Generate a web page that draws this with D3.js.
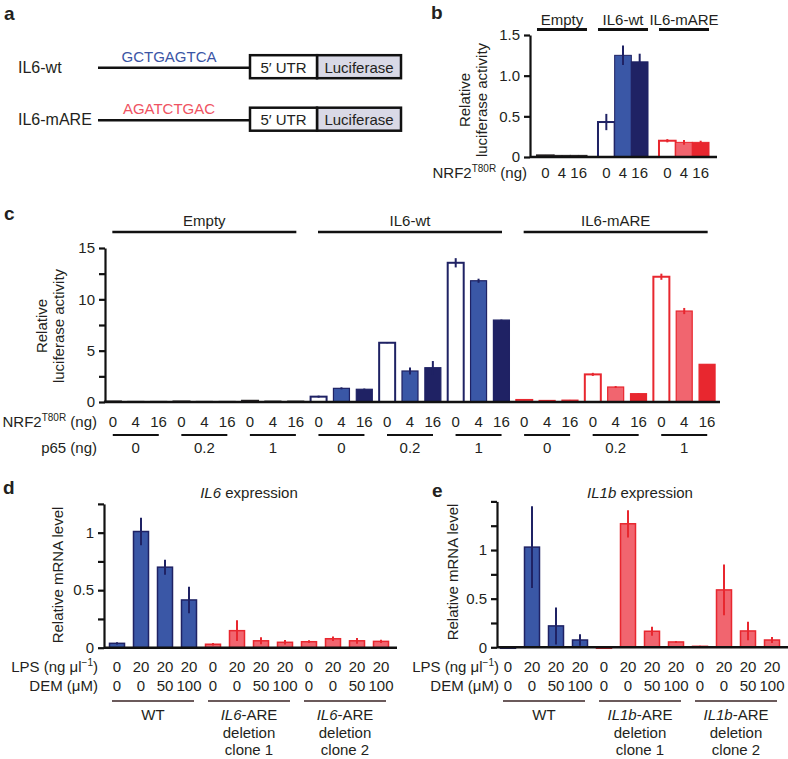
<!DOCTYPE html>
<meta charset="utf-8">
<style>
body { margin: 0; background: #fff; }
svg { font-family: "Liberation Sans", Arial, sans-serif; font-size: 15px; }
text { fill: #231f20; }
.axis path, .axis line { stroke: #111; stroke-width: 2.2; }
.axis text { fill: #231f20; }
</style>
<body>
<svg width="788" height="759"></svg>

<script src="https://cdn.jsdelivr.net/npm/d3@7"></script>
<script>

// panel a
var aConstructs = ["IL6-wt", "IL6-mARE"];
var aSequences = ["GCTGAGTCA", "AGATCTGAC"];
var aSeqColors = ["#3b55a5", "#ef5362"];

// panel b
var constructs = ["Empty", "IL6-wt", "IL6-mARE"];
var nrfDoses = ["0", "4", "16"];
var bValues = [[0.02, 0.02, 0.02], [0.43, 1.25, 1.17], [0.20, 0.18, 0.18]];
var bErrors = [[0.005, 0.005, 0.005], [0.10, 0.12, 0.10], [0.02, 0.03, 0.02]];
var bTicks = [0, 0.5, 1.0, 1.5];

// panel c
var p65Doses = ["0", "0.2", "1"];
var cValues = [
  [0.05, 0.05, 0.05, 0.05, 0.05, 0.05, 0.12, 0.08, 0.08],
  [0.52, 1.33, 1.24, 5.77, 3.02, 3.34, 13.56, 11.81, 7.98],
  [0.20, 0.15, 0.18, 2.69, 1.46, 0.81, 12.20, 8.86, 3.67]
];
var cErrors = [
  [0.01, 0.01, 0.01, 0.01, 0.01, 0.01, 0.02, 0.02, 0.02],
  [0.10, 0.10, 0.07, 0.05, 0.35, 0.65, 0.45, 0.20, 0.05],
  [0.03, 0.02, 0.02, 0.15, 0.10, 0.04, 0.30, 0.30, 0.03]
];
var cTicks = [0, 2.5, 5, 7.5, 10, 12.5, 15];

// panels d and e
var cellLines = ["WT", "clone 1", "clone 2"];
var lpsDoses = ["0", "20", "20", "20"];
var demDoses = ["0", "0", "50", "100"];
var dValues = [[0.038, 1.01, 0.70, 0.415], [0.03, 0.148, 0.06, 0.047], [0.052, 0.078, 0.06, 0.055]];
var dErrors = [[0.01, 0.12, 0.065, 0.115], [0.01, 0.09, 0.03, 0.02], [0.012, 0.02, 0.025, 0.015]];
var dTicks = [0, 0.25, 0.5, 0.75, 1, 1.25];
var eValues = [[-0.01, 1.03, 0.22, 0.075], [-0.01, 1.27, 0.165, 0.055], [0.01, 0.59, 0.168, 0.075]];
var eErrors = [[0.005, 0.42, 0.19, 0.06], [0.005, 0.14, 0.045, 0.01], [0.005, 0.26, 0.095, 0.03]];
var eTicks = [0, 0.25, 0.5, 0.75, 1, 1.25, 1.5];

var ink = "#231f20", navy = "#1f2264", blue = "#3a57a6", red = "#e8272f", pink = "#f1656f";
var fills = { "Empty": [ink, ink, ink], "IL6-wt": ["#fff", blue, navy], "IL6-mARE": ["#fff", pink, red] };
var edges = { "Empty": ink, "IL6-wt": navy, "IL6-mARE": red };

var svg = d3.select("svg");

function letter(t, x, y) {
  svg.append("text").attr("x", x).attr("y", y).attr("font-size", 19)
    .attr("font-weight", "bold").text(t);
}

function yAxis(g, y, ticks, fmt, x0) {
  g.append("g")
    .attr("class", "axis")
    .attr("transform", "translate(" + x0 + ",0)")
    .call(d3.axisLeft(y).tickValues(ticks).tickFormat(fmt).tickSize(6).tickSizeOuter(0).tickPadding(4))
    .attr("font-size", 15).attr("font-family", null);
}

function drawBars(g, rows, xf, bw, y) {
  g.selectAll("rect.bar").data(rows).enter().append("rect")
    .attr("class", "bar")
    .attr("x", function (d) { return xf(d); })
    .attr("width", bw)
    .attr("y", function (d) { return y(Math.max(0, d.v)); })
    .attr("height", function (d) { return Math.abs(y(d.v) - y(0)); })
    .attr("fill", function (d) { return d.fill; })
    .attr("stroke", function (d) { return d.stroke; })
    .attr("stroke-width", function (d) { return d.sw; });
  g.selectAll("line.err").data(rows).enter().append("line")
    .attr("class", "err")
    .attr("x1", function (d) { return xf(d) + bw / 2; })
    .attr("x2", function (d) { return xf(d) + bw / 2; })
    .attr("y1", function (d) { return y(d.v - d.e); })
    .attr("y2", function (d) { return y(d.v + d.e); })
    .attr("stroke", function (d) { return d.stroke; })
    .attr("stroke-width", 2);
}

// NRF2T80R (ng) style label with superscript
function supLabel(g, x, y, before, sup, after, italic) {
  var t = g.append("text").attr("x", x).attr("y", y).attr("text-anchor", "end");
  t.append("tspan").text(before);
  t.append("tspan").attr("font-size", 10).attr("dy", -6).text(sup);
  t.append("tspan").attr("dy", 6).text(after);
  return t;
}

function yLabel(g, x, y, lines) {
  lines.forEach(function (s, i) {
    g.append("text")
      .attr("transform", "translate(" + (x + i * 17) + "," + y + ") rotate(-90)")
      .attr("text-anchor", "middle").text(s);
  });
}

// ---------- a ----------
letter("a", 4, 20);
var a = svg.append("g");
var ay = d3.scalePoint().domain(aConstructs).range([66.7, 119.2]);
aConstructs.forEach(function (c, i) {
  var cy = ay(c);
  a.append("text").attr("x", 18).attr("y", cy + 6).attr("font-size", 16).text(c);
  a.append("line").attr("x1", 98).attr("x2", 250).attr("y1", cy + 1).attr("y2", cy + 1)
    .attr("stroke", "#111").attr("stroke-width", 2.5);
  a.append("text").attr("x", 169).attr("y", cy - 5).attr("text-anchor", "middle")
    .style("fill", aSeqColors[i]).text(aSequences[i]);
  a.append("rect").attr("x", 317).attr("y", cy - 11.5).attr("width", 84).attr("height", 23)
    .attr("fill", "#d9d9e6").attr("stroke", "#111").attr("stroke-width", 2.5);
  a.append("rect").attr("x", 250).attr("y", cy - 11.5).attr("width", 67).attr("height", 23)
    .attr("fill", "#fff").attr("stroke", "#111").attr("stroke-width", 2.5);
  a.append("text").attr("x", 283.5).attr("y", cy + 6).attr("text-anchor", "middle").text("5\u2032 UTR");
  a.append("text").attr("x", 359).attr("y", cy + 6).attr("text-anchor", "middle").text("Luciferase");
});

// ---------- b ----------
letter("b", 431, 19);
var b = svg.append("g");
var bx0 = d3.scaleBand().domain(constructs).range([531.5, 714.5]).paddingInner(0.18).paddingOuter(0.09);
var bx1 = d3.scaleBand().domain(nrfDoses).range([0, bx0.bandwidth()]);
var by = d3.scaleLinear().domain([0, 1.5]).range([157, 35]);

var bRows = [];
constructs.forEach(function (c, i) {
  nrfDoses.forEach(function (n, j) {
    bRows.push({ c: c, n: n, v: bValues[i][j], e: bErrors[i][j],
      fill: fills[c][j], stroke: edges[c], sw: j === 0 ? 2 : 1 });
  });
});
drawBars(b, bRows, function (d) { return bx0(d.c) + bx1(d.n); }, bx1.bandwidth(), by);
yAxis(b, by, bTicks, function (d) { return d === 0 ? "0" : d.toFixed(1); }, 530);
b.append("line").attr("x1", 530).attr("x2", 717).attr("y1", by(0)).attr("y2", by(0))
  .attr("stroke", "#111").attr("stroke-width", 2.5);
yLabel(b, 470, 100, ["Relative", "luciferase activity"]);

b.selectAll("text.dose").data(bRows).enter().append("text")
  .attr("x", function (d) { return bx0(d.c) + bx1(d.n) + bx1.bandwidth() / 2; })
  .attr("y", 178).attr("text-anchor", "middle").text(function (d) { return d.n; });
supLabel(b, 527, 178, "NRF2", "T80R", " (ng)");

constructs.forEach(function (c) {
  b.append("text").attr("x", bx0(c) + bx0.bandwidth() / 2).attr("y", 25)
    .attr("text-anchor", "middle").text(c);
  b.append("line").attr("x1", bx0(c)).attr("x2", bx0(c) + bx0.bandwidth())
    .attr("y1", 29.5).attr("y2", 29.5).attr("stroke", "#111").attr("stroke-width", 3);
});

// ---------- c ----------
letter("c", 4, 220);
var cg = svg.append("g");
var cRows = [];
constructs.forEach(function (c, i) {
  p65Doses.forEach(function (p, k) {
    nrfDoses.forEach(function (n, j) {
      cRows.push({ key: c + "|" + p + "|" + n, c: c, p: p, n: n,
        v: cValues[i][k * 3 + j], e: cErrors[i][k * 3 + j],
        fill: fills[c][j], stroke: edges[c], sw: j === 0 ? 2 : 1.2 });
    });
  });
});
var cx = d3.scaleBand().domain(cRows.map(function (d) { return d.key; }))
  .range([101.5, 718.5]).paddingInner(0.3).paddingOuter(0.15);
var cy = d3.scaleLinear().domain([0, 15]).range([402, 248]);

drawBars(cg, cRows, function (d) { return cx(d.key); }, cx.bandwidth(), cy);
yAxis(cg, cy, cTicks, function (d) { return d % 5 === 0 ? d : ""; }, 105);
cg.append("line").attr("x1", 105).attr("x2", 720).attr("y1", cy(0)).attr("y2", cy(0))
  .attr("stroke", "#111").attr("stroke-width", 2.5);
yLabel(cg, 47, 326, ["Relative", "luciferase activity"]);

cg.selectAll("text.dose").data(cRows).enter().append("text")
  .attr("x", function (d) { return cx(d.key) + cx.bandwidth() / 2; })
  .attr("y", 427).attr("text-anchor", "middle").text(function (d) { return d.n; });
supLabel(cg, 97, 427, "NRF2", "T80R", " (ng)");
cg.append("text").attr("x", 97).attr("y", 453).attr("text-anchor", "end").text("p65 (ng)");

function spanCenter(keys) {
  return (cx(keys[0]) + cx(keys[keys.length - 1]) + cx.bandwidth()) / 2;
}
constructs.forEach(function (c) {
  var keys = cRows.filter(function (d) { return d.c === c; }).map(function (d) { return d.key; });
  var m = spanCenter(keys);
  cg.append("text").attr("x", m).attr("y", 226).attr("text-anchor", "middle").text(c);
  cg.append("line").attr("x1", m - 92).attr("x2", m + 92).attr("y1", 232).attr("y2", 232)
    .attr("stroke", "#111").attr("stroke-width", 2.5);
  p65Doses.forEach(function (p) {
    var k = keys.filter(function (s) { return s.split("|")[1] === p; });
    var mm = spanCenter(k);
    cg.append("line").attr("x1", mm - 23).attr("x2", mm + 23).attr("y1", 435).attr("y2", 435)
      .attr("stroke", "#111").attr("stroke-width", 2.2);
    cg.append("text").attr("x", mm).attr("y", 453).attr("text-anchor", "middle").text(p);
  });
});

// ---------- d, e ----------
function expressionPanel(o) {
  var g = svg.append("g");
  var rows = [];
  cellLines.forEach(function (cl, i) {
    lpsDoses.forEach(function (l, j) {
      rows.push({ key: i + "|" + j, cl: i, lps: l, dem: demDoses[j],
        v: o.values[i][j], e: o.errors[i][j],
        fill: i === 0 ? blue : pink, stroke: i === 0 ? navy : red, sw: 1.5 });
    });
  });
  var x = d3.scaleBand().domain(rows.map(function (d) { return d.key; }))
    .range(o.xRange).paddingInner(0.375).paddingOuter(0.1875);
  var y = d3.scaleLinear().domain([0, o.yMax]).range(o.yRange);

  drawBars(g, rows, function (d) { return x(d.key); }, x.bandwidth(), y);
  yAxis(g, y, o.ticks, function (d) { return (d === 0 || d === 0.5 || d === 1) ? d : ""; }, o.axisX);
  g.append("line").attr("x1", o.axisX).attr("x2", o.lineEnd).attr("y1", y(0)).attr("y2", y(0))
    .attr("stroke", "#111").attr("stroke-width", 2.5);
  g.append("text")
    .attr("transform", "translate(" + o.labelX + "," + o.labelY + ") rotate(-90)")
    .attr("text-anchor", "middle").text("Relative mRNA level");

  var title = g.append("text").attr("x", (o.xRange[0] + o.xRange[1]) / 2).attr("y", 498)
    .attr("text-anchor", "middle");
  title.append("tspan").attr("font-style", "italic").text(o.gene);
  title.append("tspan").text(" expression");

  g.selectAll("text.lps").data(rows).enter().append("text")
    .attr("x", function (d) { return x(d.key) + x.bandwidth() / 2; })
    .attr("y", 672).attr("text-anchor", "middle").text(function (d) { return d.lps; });
  g.selectAll("text.dem").data(rows).enter().append("text")
    .attr("x", function (d) { return x(d.key) + x.bandwidth() / 2; })
    .attr("y", 691).attr("text-anchor", "middle").text(function (d) { return d.dem; });
  supLabel(g, o.rowEnd, 672, "LPS (ng \u03bcl", "\u22121", ")");
  g.append("text").attr("x", o.rowEnd).attr("y", 691).attr("text-anchor", "end").text("DEM (\u03bcM)");

  cellLines.forEach(function (cl, i) {
    var m = (x(i + "|0") + x(i + "|3") + x.bandwidth()) / 2;
    g.append("line").attr("x1", m - 41).attr("x2", m + 41).attr("y1", 701).attr("y2", 701)
      .attr("stroke", "#3a2325").attr("stroke-width", 1.5);
    if (i === 0) {
      g.append("text").attr("x", m).attr("y", 720).attr("text-anchor", "middle").text(cl);
    } else {
      var t = g.append("text").attr("x", m).attr("y", 720).attr("text-anchor", "middle");
      t.append("tspan").attr("font-style", "italic").text(o.gene);
      t.append("tspan").text("-ARE");
      g.append("text").attr("x", m).attr("y", 738).attr("text-anchor", "middle").text("deletion");
      g.append("text").attr("x", m).attr("y", 755).attr("text-anchor", "middle").text(cl);
    }
  });
}

letter("d", 3, 494);
expressionPanel({ gene: "IL6", values: dValues, errors: dErrors, ticks: dTicks, yMax: 1.25,
  xRange: [105, 393], yRange: [647.7, 503.9], axisX: 104, lineEnd: 397,
  labelX: 63, labelY: 575, rowEnd: 98 });

letter("e", 432, 497);
expressionPanel({ gene: "IL1b", values: eValues, errors: eErrors, ticks: eTicks, yMax: 1.5,
  xRange: [496, 784], yRange: [647.3, 501.4], axisX: 497, lineEnd: 788,
  labelX: 458, labelY: 572, rowEnd: 499 });

</script>
</body>
</html>
